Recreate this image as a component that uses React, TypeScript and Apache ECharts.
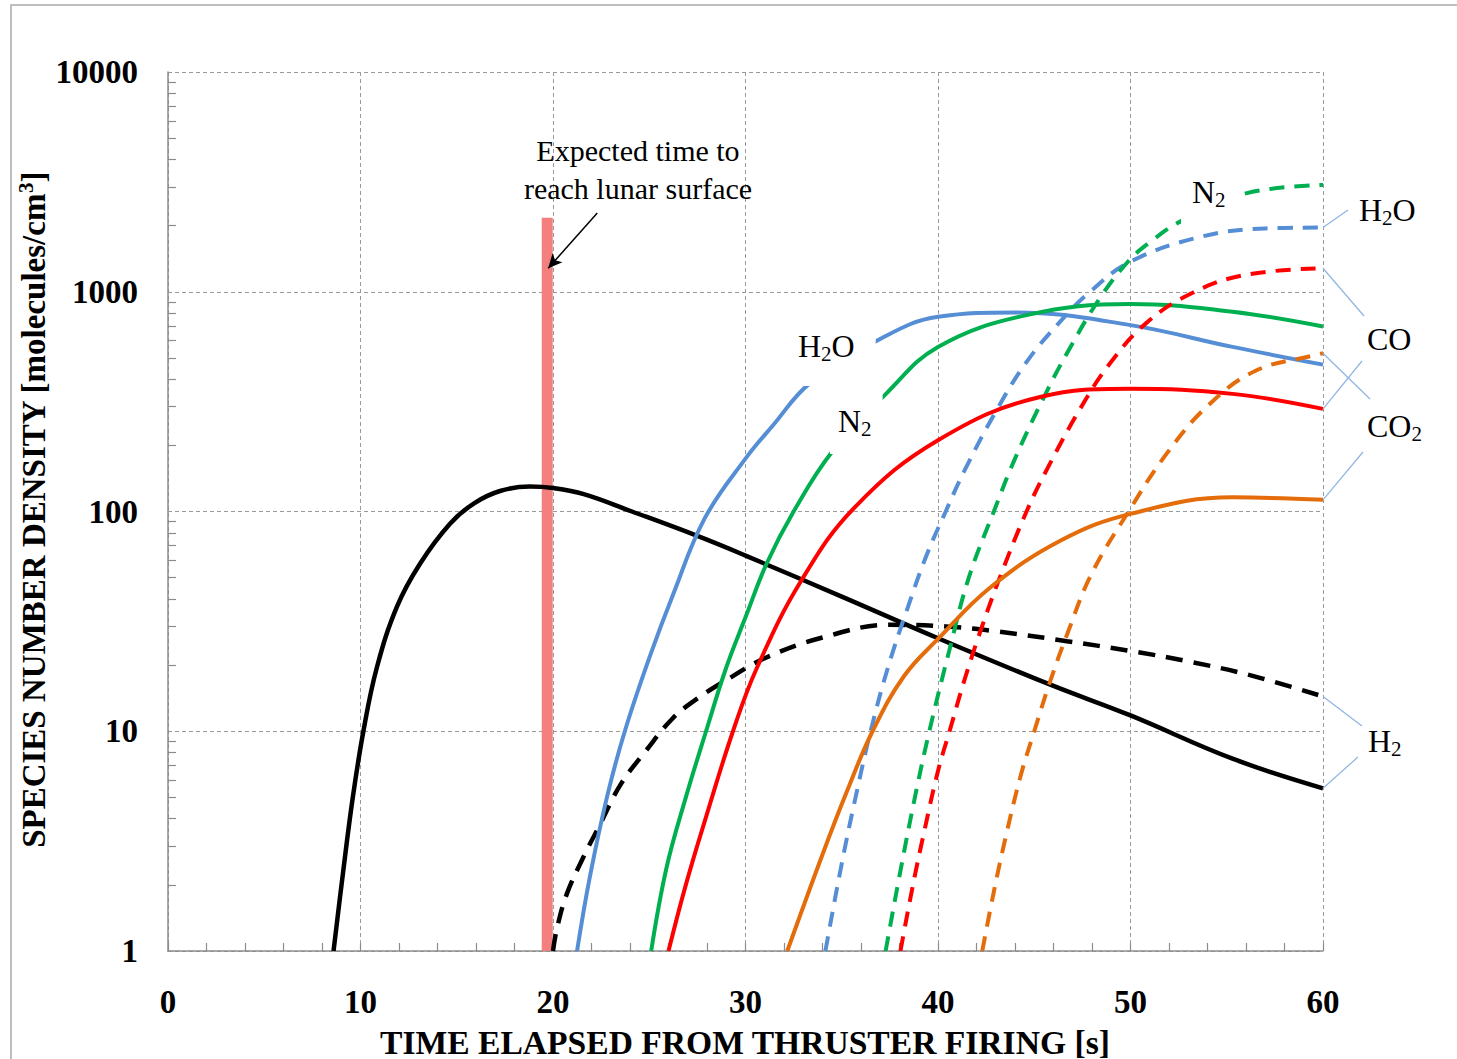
import React, { useEffect, useRef } from 'react';
import * as echarts from 'echarts';

const SERIF = "'Liberation Serif', 'Times New Roman', serif";

// Axis ticks
const xTickValues = [0, 10, 20, 30, 40, 50, 60];
const yTickValues = [1, 10, 100, 1000, 10000];
const yMinorTickValues = [
  2, 3, 4, 5, 6, 7, 8, 9,
  20, 30, 40, 50, 60, 70, 80, 90,
  200, 300, 400, 500, 600, 700, 800, 900,
  2000, 3000, 4000, 5000, 6000, 7000, 8000, 9000,
];

// [time elapsed (s), number density (molecules/cm^3)]
const h2Solid = [
  [8.6, 1], [9.1, 2.3], [9.6, 5], [10.15, 10], [10.85, 19.5], [11.9, 37], [13.1, 58],
  [14.65, 88], [15.9, 109], [17.25, 124], [18.8, 130], [20, 128], [21.6, 120], [24.1, 100],
  [27.4, 78], [30, 63], [35, 41], [40, 26.5], [45.9, 16.2], [50, 11.8], [55.3, 7.5], [60, 5.5],
];
const h2Dashed = [
  [20, 1], [20.2, 1.26], [20.7, 1.8], [21.6, 2.7], [22.4, 3.7], [23.5, 5.7], [24.85, 8.2],
  [26.2, 11.4], [27.45, 14], [29.2, 17.5], [31, 21.5], [34, 26.7], [37.5, 30.5], [40.4, 30],
  [43, 28.5], [46.7, 25.7], [50, 23.2], [53, 20.8], [56.2, 18], [60, 14.4],
];
const h2oSolid = [
  [21.25, 1], [21.9, 2.14], [22.8, 5], [23.73, 10], [25.03, 21.9], [26.23, 41.7], [27.88, 93],
  [30, 174], [31.4, 245], [33.35, 384], [36.85, 600], [40, 769], [44, 805], [50, 705],
  [55.3, 561], [60, 466],
];
const h2oDashed = [
  [34.15, 1], [35, 2.5], [35.8, 5.4], [36.5, 10], [37.4, 19.5], [38.45, 37], [39.4, 63],
  [40.4, 100], [41.4, 155], [43.1, 295], [44.6, 479], [46.3, 724], [47.9, 1000], [50, 1371],
  [53.6, 1774], [57, 1941], [60, 1959],
];
const n2Solid = [
  [25.1, 1], [25.9, 2.4], [26.9, 5], [27.95, 10], [29, 19.5], [30, 33], [31.1, 58], [32.5, 100],
  [34.5, 187], [37.3, 343], [40, 561], [44.6, 783], [50, 879], [55.3, 811], [60, 695],
];
const n2Dashed = [
  [37.28, 1], [38, 2.2], [38.8, 5], [39.55, 10], [40.57, 23], [41.6, 50], [42.9, 100], [44, 174],
  [45.5, 331], [46.7, 525], [48.4, 933], [49.9, 1380], [51, 1679], [52.7, 2113], [56, 2805],
  [60, 3060],
];
const coSolid = [
  [26.0, 1], [26.9, 2.0], [27.96, 4.1], [29.35, 10], [30.6, 19.5], [32.9, 48.5], [35.7, 105],
  [40, 211], [45.3, 332], [50, 362], [55.3, 343], [60, 293],
];
const coDashed = [
  [38.05, 1], [38.7, 2], [39.3, 3.55], [40, 6.6], [40.6, 10], [41.4, 17.4], [42.3, 30.2],
  [43.3, 52.5], [44.6, 100], [45.7, 158], [47.4, 295], [48.9, 468], [50.8, 718], [53.1, 977],
  [55.9, 1191], [60, 1279],
];
const co2Solid = [
  [32.17, 1], [34, 2.75], [35.26, 5.3], [36.6, 10], [38.23, 17.8], [40, 26.3], [42.7, 45],
  [46.4, 74], [50, 97.6], [55.3, 116], [60, 113],
];
const co2Dashed = [
  [42.3, 1], [42.9, 1.86], [43.55, 3.4], [44.3, 6.3], [45, 10], [45.8, 16.6], [46.7, 27.5],
  [48, 52.5], [49.9, 100], [51.85, 182], [54, 302], [56.5, 437], [59.5, 513], [60, 525],
];

// Expected arrival at the lunar surface
const arrivalTime = 19.7;
const arrivalBar = [[arrivalTime, 1], [arrivalTime, 2170]];
const arrowFrom = [22.3, 2280];
const arrowTo = [19.75, 1280];

const BLACK = '#000000';
const BLUE = '#558ed5';
const GREEN = '#00b050';
const RED = '#ff0000';
const ORANGE = '#e46c0a';
const LEADER = '#8eb4e3';
const GRID = '#9a9a9a';
const AXIS = '#8c8c8c';

function curve(name: string, data: number[][], color: string, dashed: boolean, width = 4, dash = [15, 10]) {
  return {
    type: 'line',
    name,
    data,
    symbol: 'none',
    showSymbol: false,
    smooth: 0.4,
    silent: true,
    z: 3,
    lineStyle: { color, width, type: dashed ? dash : 'solid', cap: 'butt' },
  };
}

function richLabel(parts: [string, string][]) {
  return parts.map(([k, t]) => `{${k}|${t}}`).join('');
}

const labelRich = {
  n: { fontSize: 32, fontFamily: SERIF, lineHeight: 36, fill: '#000' },
  s: { fontSize: 21, fontFamily: SERIF, lineHeight: 16, verticalAlign: 'bottom', fill: '#000' },
};

export default function App() {
  const ref = useRef<HTMLDivElement>(null);

  useEffect(() => {
    if (!ref.current) return;
    const chart = echarts.init(ref.current, undefined, { renderer: 'svg' });

    const labelFont = { fontFamily: SERIF, fontWeight: 'bold', fontSize: 33, color: '#000' };

    chart.setOption({
      animation: false,
      backgroundColor: '#ffffff',
      grid: { left: 168, right: 134, top: 72, bottom: 108, containLabel: false },
      xAxis: {
        type: 'value',
        min: xTickValues[0],
        max: xTickValues[xTickValues.length - 1],
        interval: 10,
        axisLine: { show: true, onZero: false, lineStyle: { color: AXIS, width: 1.5 } },
        axisTick: { show: true, inside: true, length: 8, lineStyle: { color: AXIS, width: 1.2 } },
        minorTick: { show: true, splitNumber: 5, length: 8, lineStyle: { color: AXIS, width: 1.2 } },
        axisLabel: { ...labelFont, margin: 34, lineHeight: 33, formatter: (v: number) => String(v) },
        splitLine: { show: true, lineStyle: { color: GRID, width: 1, type: [4, 3] } },
      },
      yAxis: [
        {
          type: 'log',
          logBase: 10,
          min: yTickValues[0],
          max: yTickValues[yTickValues.length - 1],
          axisLine: { show: true, lineStyle: { color: AXIS, width: 1.5 } },
          axisTick: { show: false },
          axisLabel: { ...labelFont, margin: 30, formatter: (v: number) => String(Math.round(v)) },
          splitLine: { show: true, lineStyle: { color: GRID, width: 1, type: [4, 3] } },
        },
        {
          // minor ticks at 2..9 of every decade
          type: 'log',
          logBase: 10,
          position: 'left',
          offset: 0,
          min: yTickValues[0],
          max: yTickValues[yTickValues.length - 1],
          axisLine: { show: false },
          axisTick: {
            show: true, inside: true, length: 8,
            customValues: yMinorTickValues,
            lineStyle: { color: AXIS, width: 1.2 },
          },
          axisLabel: { show: false },
          splitLine: { show: false },
        },
      ],
      series: [
        {
          type: 'line',
          name: 'arrival',
          data: arrivalBar,
          symbol: 'none',
          silent: true,
          z: 1,
          lineStyle: { color: '#f37f7f', width: 11, cap: 'butt' },
          markLine: {
            silent: true,
            symbol: ['none', 'arrow'],
            symbolSize: [10, 14],
            label: { show: false },
            lineStyle: { color: '#000', width: 1.5, type: 'solid' },
            data: [[{ coord: arrowFrom }, { coord: arrowTo }]],
          },
        },
        curve('H2', h2Solid, BLACK, false, 4.5),
        curve('H2 (dashed)', h2Dashed, BLACK, true, 4.5, [17, 11]),
        curve('H2O', h2oSolid, BLUE, false),
        curve('H2O (dashed)', h2oDashed, BLUE, true),
        curve('N2', n2Solid, GREEN, false),
        curve('N2 (dashed)', n2Dashed, GREEN, true),
        curve('CO', coSolid, RED, false),
        curve('CO (dashed)', coDashed, RED, true),
        curve('CO2', co2Solid, ORANGE, false),
        curve('CO2 (dashed)', co2Dashed, ORANGE, true),
      ],
    });

    const px = (p: number[]) => chart.convertToPixel({ gridIndex: 0 }, p) as number[];
    const last = (d: number[][]) => d[d.length - 1];

    const leader = (from: number[], to: [number, number]) => {
      const a = px(from);
      return {
        type: 'line',
        silent: true,
        z: 50,
        shape: { x1: a[0], y1: a[1], x2: to[0], y2: to[1] },
        style: { stroke: LEADER, lineWidth: 1.2 },
      };
    };

    // left/cy give the text's own left edge and line centre; the padded white box is laid around it
    const species = (parts: [string, string][], left: number, cy: number, pad?: number[]) => {
      const pt = pad ? pad[0] : 0;
      const pb = pad ? pad[2] : 0;
      const pl = pad ? pad[3] : 0;
      return {
        type: 'text',
        silent: true,
        z: 100,
        style: {
          x: left - pl,
          y: cy - (pt - pb) / 2,
          text: richLabel(parts),
          rich: labelRich,
          align: 'left', textAlign: 'left',
          verticalAlign: 'middle', textVerticalAlign: 'middle',
          backgroundColor: pad ? '#ffffff' : undefined,
          padding: pad,
        },
      };
    };

    chart.setOption({
      graphic: [
        {
          type: 'rect',
          silent: true,
          z: 0,
          shape: { x: 11, y: 5, width: 1500, height: 1100 },
          style: { fill: 'none', stroke: '#a9a9a9', lineWidth: 1.5 },
        },
        {
          type: 'text',
          silent: true,
          z: 100,
          x: 34,
          y: 510,
          rotation: Math.PI / 2,
          style: {
            x: 0, y: 0,
            text: '{b|SPECIES NUMBER DENSITY [molecules/cm}{sup|3}{b|]}',
            rich: {
              b: { fontSize: 33, fontWeight: 'bold', fontFamily: SERIF, lineHeight: 38, fill: '#000' },
              sup: { fontSize: 21, fontWeight: 'bold', fontFamily: SERIF, lineHeight: 24, verticalAlign: 'top', fill: '#000' },
            },
            align: 'center', textAlign: 'center',
            verticalAlign: 'middle', textVerticalAlign: 'middle',
          },
        },
        {
          type: 'text',
          silent: true,
          z: 100,
          style: {
            x: 745, y: 1042,
            text: 'TIME ELAPSED FROM THRUSTER FIRING [s]',
            fontSize: 33.6, fontWeight: 'bold', fontFamily: SERIF, fill: '#000',
            align: 'center', textAlign: 'center',
            verticalAlign: 'middle', textVerticalAlign: 'middle',
          },
        },
        {
          type: 'text',
          silent: true,
          z: 100,
          style: {
            x: 638, y: 169,
            text: 'Expected time to\nreach lunar surface',
            fontSize: 30, fontFamily: SERIF, fill: '#000', lineHeight: 38,
            align: 'center', textAlign: 'center',
            verticalAlign: 'middle', textVerticalAlign: 'middle',
          },
        },
        leader(last(h2oDashed), [1348, 210]),
        leader(last(coDashed), [1364, 316]),
        leader(last(coSolid), [1362, 361]),
        leader(last(co2Dashed), [1370, 399]),
        leader(last(co2Solid), [1363, 452]),
        leader(last(h2Dashed), [1362, 726]),
        leader(last(h2Solid), [1358, 757]),
        species([['n', 'H'], ['s', '2'], ['n', 'O']], 1359, 210),
        species([['n', 'CO']], 1367, 339),
        species([['n', 'CO'], ['s', '2']], 1367, 426),
        species([['n', 'H'], ['s', '2']], 1368, 741),
        species([['n', 'N'], ['s', '2']], 1192, 192, [0, 18, 14, 11]),
        species([['n', 'H'], ['s', '2'], ['n', 'O']], 798, 346, [2, 21, 22, 4]),
        species([['n', 'N'], ['s', '2']], 838, 421, [13, 11, 15, 8]),
      ],
    });

    return () => chart.dispose();
  }, []);

  return (
    <div
      ref={ref}
      style={{ position: 'fixed', left: 0, top: 0, width: 1457, height: 1059, background: '#fff' }}
    />
  );
}
